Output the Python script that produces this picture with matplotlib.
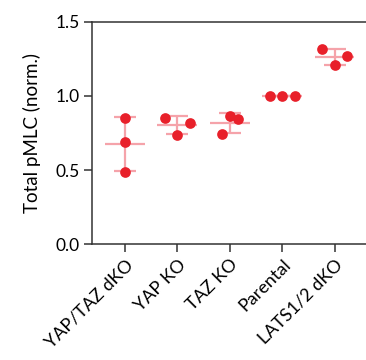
import numpy as np
import matplotlib.pyplot as plt

groups = ['YAP/TAZ dKO', 'YAP KO', 'TAZ KO', 'Parental', 'LATS1/2 dKO']
values = [
    [0.849, 0.687, 0.486],
    [0.851, 0.736, 0.820],
    [0.743, 0.867, 0.843],
    [1.0, 1.0, 1.0],
    [1.315, 1.207, 1.270],
]
# horizontal scatter of the replicate dots (category units)
jitter = [
    [0.0, 0.0, 0.0],
    [-0.23, 0.0, 0.24],
    [-0.15, 0.0, 0.16],
    [-0.24, 0.0, 0.24],
    [-0.24, 0.0, 0.24],
]

plt.rcParams['font.family'] = ['Lato', 'DejaVu Sans']

fig = plt.figure(figsize=(3.66, 3.6), dpi=100)
ax = fig.add_axes([0.2514, 0.3222, 0.7486, 0.6167])

dot_c = '#e8202a'
bar_c = '#f5a3aa'
for i, (v, j) in enumerate(zip(values, jitter)):
    v = np.array(v)
    m = v.mean()
    sd = v.std(ddof=1)
    ax.hlines(m, i - 0.38, i + 0.38, color=bar_c, lw=1.6, zorder=1)
    ax.vlines(i, m - sd, m + sd, color=bar_c, lw=1.6, zorder=1)
    ax.hlines([m - sd, m + sd], i - 0.21, i + 0.21, color=bar_c, lw=1.6, zorder=1)
    ax.plot(i + np.array(j), v, 'o', color=dot_c, ms=7.7, mec='none', zorder=3)

ax.set_xlim(-0.63, 4.6)
ax.set_ylim(0, 1.5)
ax.set_yticks([0, 0.5, 1.0, 1.5])
ax.set_yticklabels(['0.0', '0.5', '1.0', '1.5'], fontsize=12.5)
ax.set_xticks(range(len(groups)))
ax.set_xticklabels(groups, rotation=45, ha='right', va='top', rotation_mode='anchor',
                   fontsize=13)
ax.set_ylabel('Total pMLC (norm.)', fontsize=13.5, labelpad=10)
ax.tick_params(length=6, width=1.1, color='#333333', pad=3)
ax.spines['right'].set_visible(False)
for s in ['left', 'top', 'bottom']:
    ax.spines[s].set_linewidth(1.1)
    ax.spines[s].set_color('#333333')

plt.savefig('out.png', dpi=100)
